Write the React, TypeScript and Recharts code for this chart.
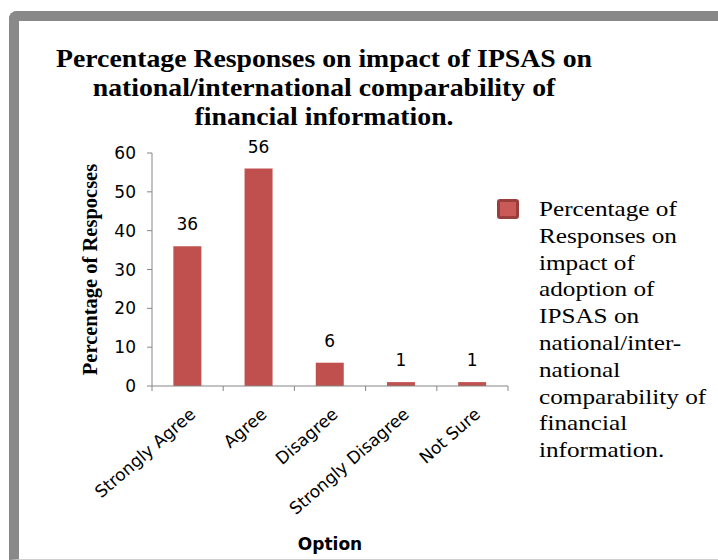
import React from 'react';
import { BarChart, Bar, XAxis, YAxis, Legend, LabelList } from 'recharts';

const options = ['Strongly Agree', 'Agree', 'Disagree', 'Strongly Disagree', 'Not Sure'];
const percentages = [36, 56, 6, 1, 1];
const yTicks = [0, 10, 20, 30, 40, 50, 60];

const titleLines = [
  'Percentage Responses on impact of IPSAS on',
  'national/international comparability of',
  'financial information.',
];
const legendLines = [
  'Percentage of',
  'Responses on',
  'impact of',
  'adoption of',
  'IPSAS on',
  'national/inter-',
  'national',
  'comparability of',
  'financial',
  'information.',
];

const seriesName = legendLines.join(' ');
const data = options.map((option, i) => ({ option, value: percentages[i] }));

const AXIS = '#868686';
const RED = '#C0504D';
const SANS = '"DejaVu Sans", "Open Sans", sans-serif';
const SERIF = '"Liberation Serif", "Times New Roman", serif';

// Excel puts the x ticks on the category boundaries, not under the bars
const OptionTick = (props: any) => {
  const { x, y, payload, index, visibleTicksCount } = props;
  const half = payload?.offset ?? 0;
  const isLast = index === visibleTicksCount - 1;
  const tx = x + 9;
  const ty = y + 25;
  return (
    <g>
      <line x1={x - half} x2={x - half} y1={y - 5} y2={y} stroke={AXIS} />
      {isLast && <line x1={x + half} x2={x + half} y1={y - 5} y2={y} stroke={AXIS} />}
      <text
        x={tx}
        y={ty}
        textAnchor="end"
        transform={`rotate(-41, ${tx}, ${ty})`}
        fontFamily={SANS}
        fontSize={17}
        fill="#000"
      >
        {payload.value}
      </text>
    </g>
  );
};

const LegendBox = () => (
  <div style={{ display: 'flex', alignItems: 'flex-start' }}>
    <div
      style={{
        width: 16,
        height: 14,
        marginTop: 3,
        background: '#C95A57',
        border: '3px solid #9A3E3C',
        borderRadius: 3,
        flexShrink: 0,
      }}
    />
    <div
      style={{
        marginLeft: 20,
        fontFamily: SERIF,
        fontSize: 21,
        lineHeight: '26.8px',
        color: '#000',
        whiteSpace: 'nowrap',
        transform: 'scaleX(1.2)',
        transformOrigin: 'left top',
      }}
    >
      {legendLines.map((l) => (
        <div key={l}>{l}</div>
      ))}
    </div>
  </div>
);

export default function App() {
  return (
    <div style={{ position: 'absolute', left: 0, top: 0, width: 718, height: 560, overflow: 'hidden', background: '#fff' }}>
      <div
        style={{
          position: 'absolute',
          left: 9,
          top: 11,
          width: 760,
          height: 549,
          boxSizing: 'border-box',
          borderTop: '10px solid #898989',
          borderLeft: '10px solid #898989',
          borderBottom: '1px solid #cfcfcf',
          borderTopLeftRadius: 8,
        }}
      />
      <div
        style={{
          position: 'absolute',
          left: 24,
          top: 44,
          width: 600,
          textAlign: 'center',
          fontFamily: SERIF,
          fontWeight: 'bold',
          fontSize: 25,
          lineHeight: '29px',
          color: '#000',
          whiteSpace: 'nowrap',
          transform: 'scaleX(1.11)',
          transformOrigin: 'center top',
        }}
      >
        {titleLines.map((l) => (
          <div key={l}>{l}</div>
        ))}
      </div>
      <div style={{ position: 'absolute', left: 0, top: 0 }}>
        <BarChart
          width={718}
          height={560}
          data={data}
          margin={{ top: 153, right: 210, left: 0, bottom: 0 }}
          barCategoryGap="30%"
        >
          <XAxis
            dataKey="option"
            height={174}
            interval={0}
            stroke={AXIS}
            tickLine={false}
            tickSize={5}
            tickMargin={0}
            tick={<OptionTick />}
            label={{
              value: 'Option',
              position: 'insideBottom',
              offset: 10,
              style: { fontFamily: SANS, fontWeight: 'bold', fontSize: 17, fill: '#000' },
            }}
          />
          <YAxis
            width={152}
            domain={[0, 60]}
            ticks={yTicks}
            interval={0}
            stroke={AXIS}
            tickSize={5}
            tickMargin={11}
            tick={{ fontFamily: SANS, fontSize: 17, fill: '#000' }}
            label={{
              value: 'Percentage of Respocses',
              angle: -90,
              position: 'insideLeft',
              offset: 90,
              style: { textAnchor: 'middle', fontFamily: SERIF, fontWeight: 'bold', fontSize: 20.5, fill: '#000' },
            }}
          />
          <Legend
            layout="horizontal"
            align="center"
            verticalAlign="middle"
            wrapperStyle={{ left: 497, top: 196, width: 215 }}
            content={<LegendBox />}
          />
          <Bar dataKey="value" name={seriesName} fill={RED} isAnimationActive={false}>
            <LabelList
              dataKey="value"
              position="top"
              offset={16}
              style={{ fontFamily: SANS, fontSize: 17, fill: '#000' }}
            />
          </Bar>
        </BarChart>
      </div>
    </div>
  );
}
